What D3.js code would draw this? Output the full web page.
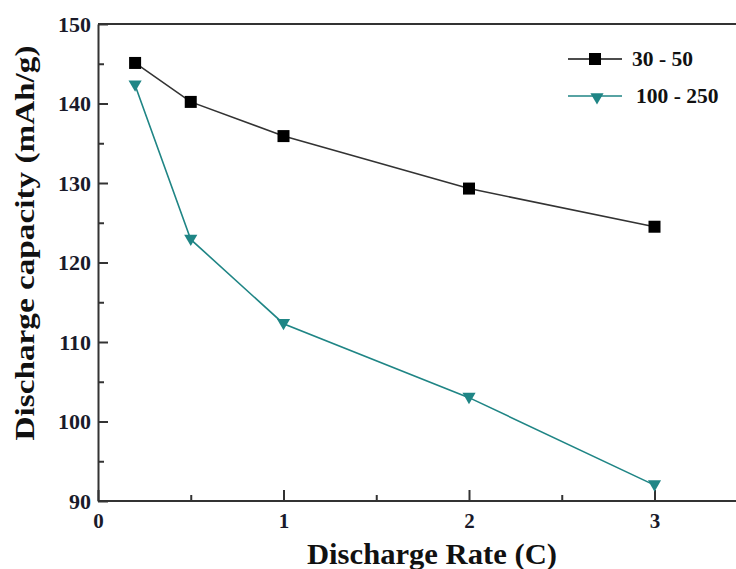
<!DOCTYPE html>
<html><head><meta charset="utf-8">
<script src="https://cdn.jsdelivr.net/npm/d3@7"></script>
<style>body{margin:0;background:#fff}svg{display:block}</style>
</head><body>
<svg id="c" width="736" height="569"></svg>
<script>
const rates = [0.2, 0.5, 1, 2, 3];
const series1Name = "30 - 50";
const series1 = [145.1, 140.2, 135.9, 129.3, 124.5];
const series2Name = "100 - 250";
const series2 = [142.3, 122.9, 112.3, 103.0, 92.0];
const xTicks = [0, 1, 2, 3];
const xMinor = [0.5, 1.5, 2.5];
const yTicks = [90, 100, 110, 120, 130, 140, 150];
const yMinor = [95, 105, 115, 125, 135, 145];

const svg = d3.select("#c");
const x = d3.scaleLinear().domain([0, 3.5]).range([98, 98 + 3.5 * 185.5]);
const y = d3.scaleLinear().domain([90, 150]).range([501, 24]);
const font = "'Liberation Serif','Times New Roman',serif";
const axisColor = "#333";
const teal = "#1f8585";

// axes frame: top line
svg.append("line").attr("x1", x(0)).attr("x2", 736).attr("y1", y(150)).attr("y2", y(150))
  .attr("stroke", axisColor).attr("stroke-width", 2);

// x axis
const xAxis = d3.axisBottom(x).tickValues(xTicks).tickSize(-11).tickSizeOuter(0).tickPadding(14)
  .tickFormat(d3.format("d"));
const gx = svg.append("g").attr("transform", `translate(0,${y(90)})`).call(xAxis);
gx.select(".domain").attr("stroke", axisColor).attr("stroke-width", 2).attr("d", `M${x(0)},0H736`);
gx.selectAll(".tick line").attr("stroke", axisColor).attr("stroke-width", 2);
gx.selectAll(".tick text").attr("font-family", font).attr("font-weight", "bold").attr("font-size", 21)
  .attr("fill", "#1a1a2a").attr("y", 12);
svg.append("g").attr("transform", `translate(0,${y(90)})`)
  .call(d3.axisBottom(x).tickValues(xMinor).tickSize(-6).tickFormat(""))
  .call(g => g.select(".domain").remove())
  .selectAll("line").attr("stroke", axisColor).attr("stroke-width", 2);

// y axis
const yAxis = d3.axisLeft(y).tickValues(yTicks).tickSize(-10).tickSizeOuter(0).tickPadding(18);
const gy = svg.append("g").attr("transform", `translate(${x(0)},0)`).call(yAxis);
gy.select(".domain").attr("stroke", axisColor).attr("stroke-width", 2);
gy.selectAll(".tick line").attr("stroke", axisColor).attr("stroke-width", 2);
gy.selectAll(".tick text").attr("font-family", font).attr("font-weight", "bold").attr("font-size", 22)
  .attr("fill", "#1a1a2a").attr("x", -7);
svg.append("g").attr("transform", `translate(${x(0)},0)`)
  .call(d3.axisLeft(y).tickValues(yMinor).tickSize(-6).tickFormat(""))
  .call(g => g.select(".domain").remove())
  .selectAll("line").attr("stroke", axisColor).attr("stroke-width", 2);

// titles
svg.append("text").attr("x", 432).attr("y", 564).attr("text-anchor", "middle")
  .attr("font-family", font).attr("font-weight", "bold").attr("font-size", 29).attr("fill", "#111")
  .attr("textLength", 250).attr("lengthAdjust", "spacingAndGlyphs")
  .text("Discharge Rate (C)");
svg.append("text").attr("transform", "translate(34,243) rotate(-90)").attr("text-anchor", "middle")
  .attr("font-family", font).attr("font-weight", "bold").attr("font-size", 28).attr("fill", "#111")
  .attr("textLength", 395).attr("lengthAdjust", "spacingAndGlyphs")
  .text("Discharge capacity (mAh/g)");

const line = d3.line().x((d, i) => x(rates[i])).y(d => y(d));
const tri = d3.symbol().type(d3.symbolTriangle).size(75);

// series 2
svg.append("path").datum(series2).attr("d", line).attr("fill", "none").attr("stroke", teal).attr("stroke-width", 1.6);
svg.selectAll(".t").data(series2).enter().append("path")
  .attr("d", tri).attr("transform", (d, i) => `translate(${x(rates[i])},${y(d) - 1}) rotate(180)`)
  .attr("fill", teal);

// series 1
svg.append("path").datum(series1).attr("d", line).attr("fill", "none").attr("stroke", "#333").attr("stroke-width", 1.6);
svg.selectAll(".s").data(series1).enter().append("rect")
  .attr("x", (d, i) => x(rates[i]) - 6).attr("y", d => y(d) - 6).attr("width", 12).attr("height", 12)
  .attr("fill", "#000");

// legend
const leg = [{name: series1Name, color: "#111", sym: "sq", y: 59, tx: 632},
             {name: series2Name, color: teal, sym: "tri", y: 96, tx: 636}];
leg.forEach(l => {
  svg.append("line").attr("x1", 568).attr("x2", 622).attr("y1", l.y).attr("y2", l.y)
    .attr("stroke", l.color).attr("stroke-width", 1.6);
  if (l.sym === "sq") {
    svg.append("rect").attr("x", 595 - 6).attr("y", l.y - 6).attr("width", 12).attr("height", 12).attr("fill", "#000");
  } else {
    svg.append("path").attr("d", tri).attr("transform", `translate(597,${l.y + 1}) rotate(180)`).attr("fill", teal);
  }
  svg.append("text").attr("x", l.tx).attr("y", l.y + 7).attr("font-family", font).attr("font-weight", "bold")
    .attr("font-size", 21.5).attr("fill", "#111").text(l.name);
});
</script>
</body></html>
